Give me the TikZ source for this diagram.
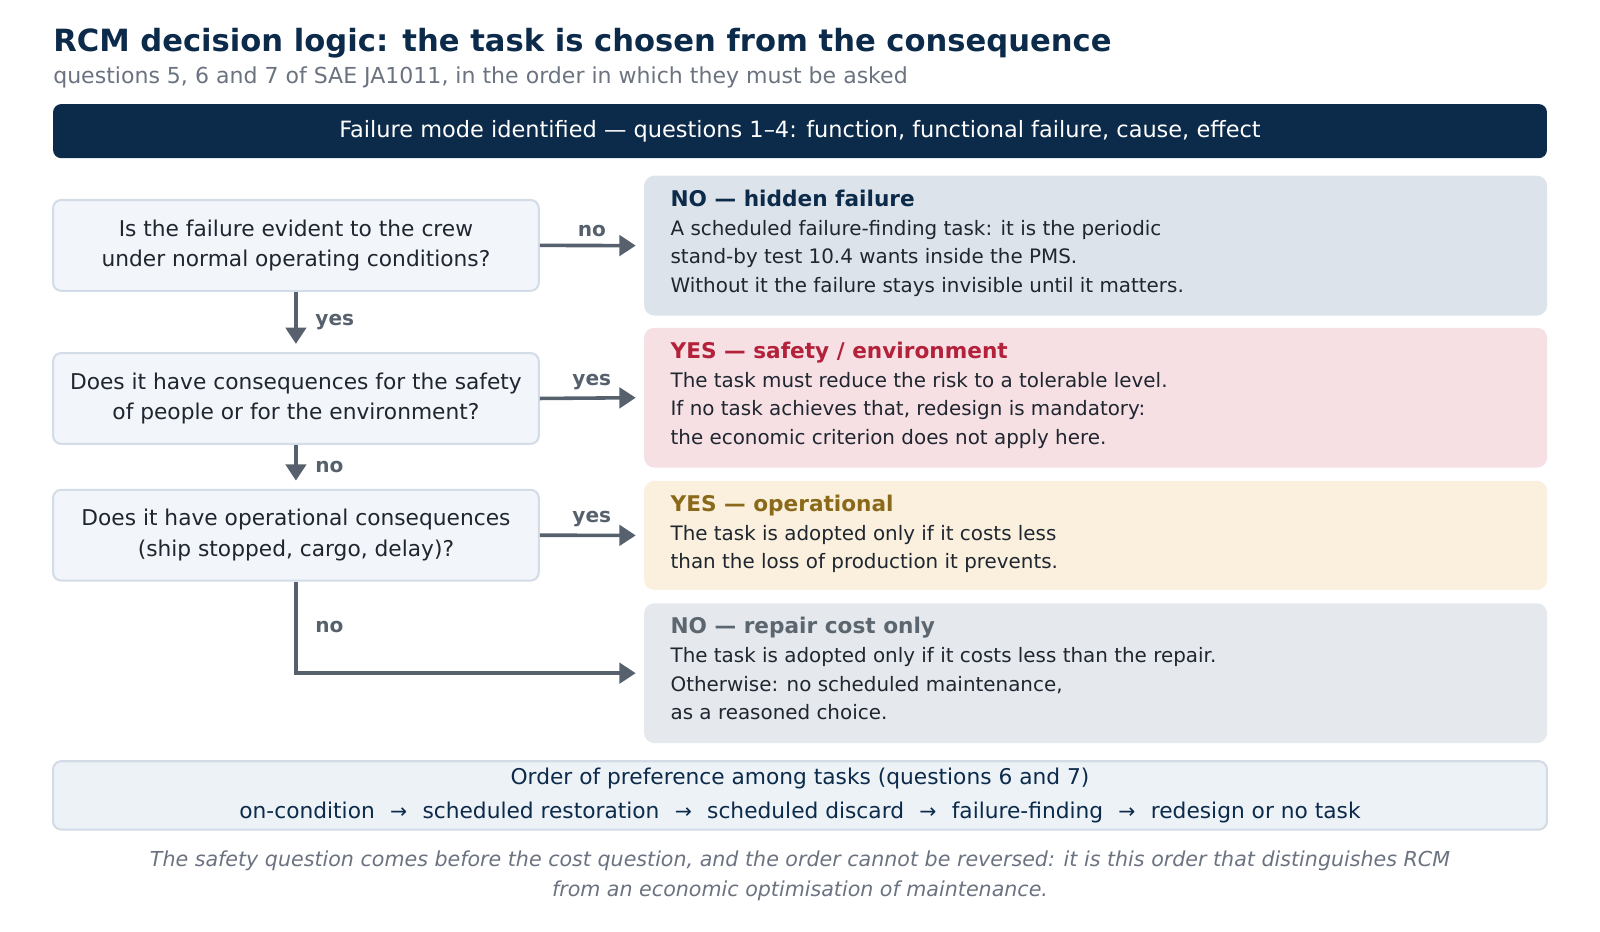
\documentclass[tikz,border=0pt]{standalone}
\usepackage{fontspec}
\setmainfont{DejaVu Sans}
\usetikzlibrary{arrows.meta,positioning}

\definecolor{navy}{HTML}{0C2A4A}
\definecolor{mutedgray}{HTML}{6B7280}
\definecolor{bodyink}{HTML}{1F2630}
\definecolor{linkgray}{HTML}{56616D}
\definecolor{qfill}{HTML}{F2F5F9}
\definecolor{qline}{HTML}{D3DCE7}
\definecolor{hiddenfill}{HTML}{DDE3EA}
\definecolor{safetyfill}{HTML}{F6E0E4}
\definecolor{safetyred}{HTML}{B3213A}
\definecolor{operfill}{HTML}{FAF0DD}
\definecolor{operbrown}{HTML}{8A6A1A}
\definecolor{repairfill}{HTML}{E5E9ED}
\definecolor{repairgray}{HTML}{5C6670}
\definecolor{orderfill}{HTML}{EDF2F7}
\definecolor{orderline}{HTML}{D3DCE6}

\newcommand{\sep}{\hspace{15pt}{\fontsize{20}{20}\selectfont →}\hspace{15pt}}

\begin{document}
\begin{tikzpicture}[x=1pt, y=-1pt,
    question/.style={draw=qline, line width=2pt, fill=qfill, rounded corners=8pt,
        minimum width=476pt, minimum height=89pt, align=center, text=bodyink,
        font=\fontsize{21.3}{30}\selectfont},
    answer/.style={rounded corners=10pt, minimum width=885pt, minimum height=137pt,
        anchor=north west},
    answertext/.style={anchor=north west, inner sep=0pt, align=left, text=bodyink,
        font=\fontsize{19.5}{28}\selectfont},
    link/.style={draw=linkgray, line width=3.5pt, -{Triangle[length=16pt, width=20pt]}},
    linklabel/.style={text=linkgray, font=\fontsize{19.7}{22}\selectfont\bfseries}]
    %\draw[lightgray] (0, 0) grid[step=100] (1568, 913);
    \useasboundingbox (0, 0) rectangle (1568, 913);

    \node[anchor=base west, inner sep=0pt, text=navy] (title) at (52, 50)
        {\fontsize{30}{36}\selectfont\bfseries RCM decision logic: the task is chosen from the consequence};
    \node[anchor=base west, inner sep=0pt, text=mutedgray] (subtitle) at (52, 82)
        {\fontsize{21.6}{25}\selectfont questions 5, 6 and 7 of SAE JA1011, in the order in which they must be asked};

    \node[fill=navy, rounded corners=8pt, minimum width=1464pt, minimum height=53pt, text=white] (mode) at (784, 128.5)
        {\fontsize{22}{25}\selectfont Failure mode identified — questions 1–4: function, functional failure, cause, effect};

    \node[question] (evident) at (290, 240.5) {Is the failure evident to the crew\\under normal operating conditions?};
    \node[question] (safety) at (290, 390.5) {Does it have consequences for the safety\\of people or for the environment?};
    \node[question] (oper) at (290, 524.5) {Does it have operational consequences\\(ship stopped, cargo, delay)?};

    \node[answer, fill=hiddenfill] (hidden) at (631, 172) {};
    \node[answertext] (hiddentext) at (657, 186)
        {{\fontsize{21.2}{28}\selectfont\bfseries\color{navy}NO — hidden failure}\\
         A scheduled failure-finding task: it is the periodic\\
         stand-by test 10.4 wants inside the PMS.\\
         Without it the failure stays invisible until it matters.};

    \node[answer, fill=safetyfill] (safe) at (631, 321) {};
    \node[answertext] (safetext) at (657, 335)
        {{\fontsize{21.2}{28}\selectfont\bfseries\color{safetyred}YES — safety / environment}\\
         The task must reduce the risk to a tolerable level.\\
         If no task achieves that, redesign is mandatory:\\
         the economic criterion does not apply here.};

    \node[answer, fill=operfill, minimum height=107pt] (operational) at (631, 471) {};
    \node[answertext] (opertext) at (657, 485)
        {{\fontsize{21.2}{28}\selectfont\bfseries\color{operbrown}YES — operational}\\
         The task is adopted only if it costs less\\
         than the loss of production it prevents.};

    \node[answer, fill=repairfill] (repair) at (631, 591) {};
    \node[answertext] (repairtext) at (657, 605)
        {{\fontsize{21.2}{28}\selectfont\bfseries\color{repairgray}NO — repair cost only}\\
         The task is adopted only if it costs less than the repair.\\
         Otherwise: no scheduled maintenance,\\
         as a reasoned choice.};

    \draw[link, shorten >=8pt] (evident.east) -- (hidden.west) node[linklabel, midway, above=3pt] {no};
    \draw[link, shorten >=8pt] (safety.east) -- (safe.west) node[linklabel, midway, above=3pt] {yes};
    \draw[link, shorten >=8pt] (oper.east) -- (operational.west) node[linklabel, midway, above=3pt] {yes};
    \draw[link, shorten >=8pt] (evident.south) -- (safety.north) node[linklabel, midway, right=14pt] {yes};
    \draw[link, shorten >=8pt] (safety.south) -- (oper.north) node[linklabel, midway, right=14pt] {no};
    \draw[link, shorten >=8pt] (oper.south) |- (repair.west) node[linklabel, pos=0.25, right=14pt] {no};

    \node[draw=orderline, line width=2pt, fill=orderfill, rounded corners=8pt, minimum width=1464pt,
        minimum height=67pt, align=center, text=navy, font=\fontsize{21.3}{33}\selectfont] (order) at (784, 779.5)
        {Order of preference among tasks (questions 6 and 7)\\
         on-condition\sep scheduled restoration\sep scheduled discard\sep failure-finding\sep redesign or no task};

    \node[align=center, text=mutedgray, font=\fontsize{20.2}{29}\selectfont\itshape] (note) at (784, 858)
        {The safety question comes before the cost question, and the order cannot be reversed: it is this order that distinguishes RCM\\
         from an economic optimisation of maintenance.};
\end{tikzpicture}
\end{document}
